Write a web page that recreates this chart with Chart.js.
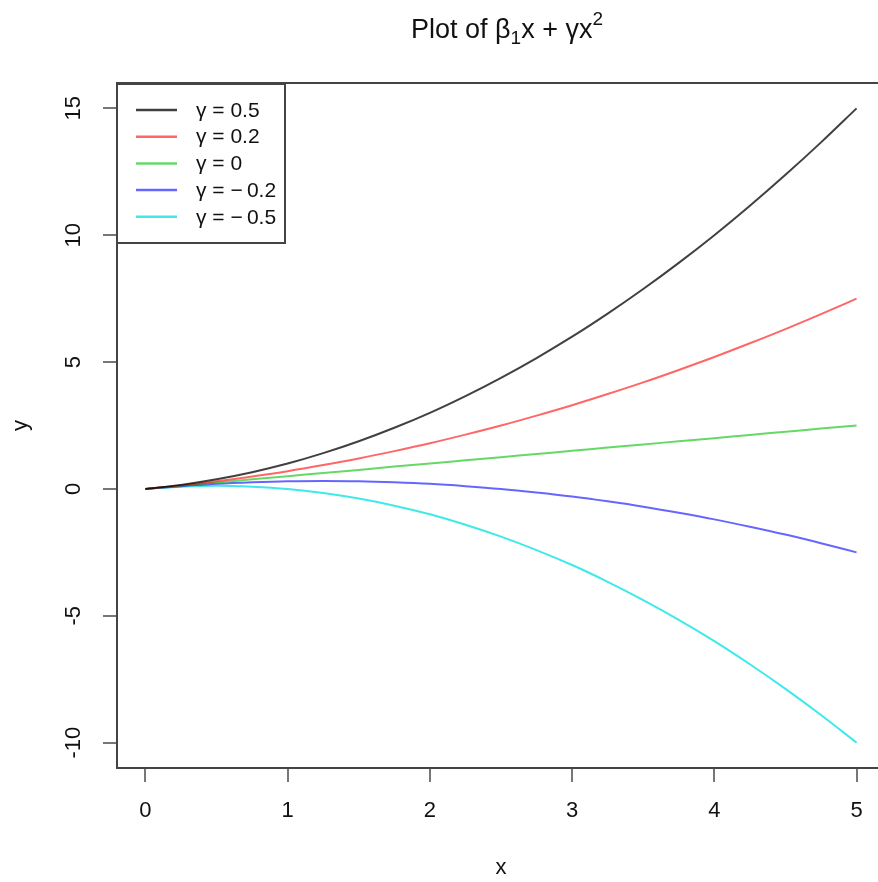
<!DOCTYPE html>
<html>
<head>
<meta charset="utf-8">
<script src="https://cdn.jsdelivr.net/npm/chart.js@4.4.1/dist/chart.umd.min.js"></script>
<style>
    html, body { margin: 0; padding: 0; background: #fff; overflow: hidden; }
    #wrap { width: 886px; height: 882px; }
</style>
</head>
<body>
<div id="wrap"><canvas id="quadChart" width="886" height="882"></canvas></div>
<script>
// values (y = b1*x + g*x^2 curves)
const xValues = [0, 0.25, 0.5, 0.75, 1, 1.25, 1.5, 1.75, 2, 2.25, 2.5, 2.75, 3, 3.25, 3.5, 3.75, 4, 4.25, 4.5, 4.75, 5];
const gammaPos05 = [0, 0.16, 0.38, 0.66, 1.0, 1.41, 1.88, 2.41, 3.0, 3.66, 4.38, 5.16, 6.0, 6.91, 7.88, 8.91, 10.0, 11.16, 12.38, 13.66, 15.0];
const gammaPos02 = [0, 0.14, 0.30, 0.49, 0.70, 0.94, 1.20, 1.49, 1.80, 2.14, 2.50, 2.89, 3.30, 3.74, 4.20, 4.69, 5.20, 5.74, 6.30, 6.89, 7.50];
const gammaZero = [0, 0.13, 0.25, 0.38, 0.50, 0.63, 0.75, 0.88, 1.0, 1.13, 1.25, 1.38, 1.50, 1.63, 1.75, 1.88, 2.0, 2.13, 2.25, 2.38, 2.50];
const gammaNeg02 = [0, 0.11, 0.20, 0.26, 0.30, 0.31, 0.30, 0.26, 0.20, 0.11, 0.0, -0.14, -0.30, -0.49, -0.70, -0.94, -1.20, -1.49, -1.80, -2.14, -2.50];
const gammaNeg05 = [0, 0.09, 0.13, 0.09, 0, -0.16, -0.38, -0.66, -1.0, -1.41, -1.88, -2.41, -3.0, -3.66, -4.38, -5.16, -6.0, -6.91, -7.88, -8.91, -10.0];

const seriesLabels = ['γ = 0.5', 'γ = 0.2', 'γ = 0', 'γ = \u2212\u20090.2', 'γ = \u2212\u20090.5'];
const xTicks = [0, 1, 2, 3, 4, 5];
const yTicks = [-10, -5, 0, 5, 10, 15];

const lineColors = ['rgba(0,0,0,0.75)', 'rgba(255,0,0,0.6)', 'rgba(0,190,0,0.6)', 'rgba(0,0,255,0.6)', 'rgba(0,225,225,0.75)'];
const FONT = '"Liberation Sans", Arial, sans-serif';

function toPoints(ys) {
    return xValues.map((x, i) => ({ x: x, y: ys[i] }));
}

// title with sub/superscript, like R plotmath
const titlePlugin = {
    id: 'rTitle',
    afterDraw(chart) {
        const ctx = chart.ctx;
        const parts = [
            { t: 'Plot of β', size: 27, dy: 0 },
            { t: '1', size: 19, dy: 6 },
            { t: 'x + γx', size: 27, dy: 0 },
            { t: '2', size: 19, dy: -13 }
        ];
        ctx.save();
        ctx.fillStyle = '#111';
        ctx.textBaseline = 'alphabetic';
        let total = 0;
        parts.forEach(p => {
            ctx.font = p.size + 'px ' + FONT;
            p.w = ctx.measureText(p.t).width;
            total += p.w;
        });
        let x = 507 - total / 2;
        parts.forEach(p => {
            ctx.font = p.size + 'px ' + FONT;
            ctx.textAlign = 'left';
            ctx.fillText(p.t, x, 38 + p.dy);
            x += p.w;
        });
        ctx.restore();
    }
};

// box around plot region + legend in the top-left corner
const boxLegendPlugin = {
    id: 'boxLegend',
    afterDraw(chart) {
        const ctx = chart.ctx;
        const a = chart.chartArea;
        ctx.save();
        ctx.strokeStyle = '#444';
        ctx.lineWidth = 2;
        ctx.strokeRect(a.left, a.top, a.right - a.left, a.bottom - a.top);

        // legend
        const lx = a.left, ly = a.top + 1;
        ctx.fillStyle = '#fff';
        ctx.fillRect(lx, ly, 168, 159);
        ctx.strokeRect(lx, ly, 168, 159);
        ctx.font = '21px ' + FONT;
        ctx.textBaseline = 'middle';
        ctx.textAlign = 'left';
        chart.data.datasets.forEach((ds, i) => {
            const y = ly + 26 + i * 26.7;
            ctx.strokeStyle = ds.borderColor;
            ctx.lineWidth = 2.5;
            ctx.beginPath();
            ctx.moveTo(lx + 19, y);
            ctx.lineTo(lx + 60, y);
            ctx.stroke();
            ctx.fillStyle = '#111';
            ctx.fillText(ds.label, lx + 79, y + 1);
        });
        ctx.restore();
    }
};

const ctx = document.getElementById('quadChart').getContext('2d');
const seriesData = [gammaPos05, gammaPos02, gammaZero, gammaNeg02, gammaNeg05];

new Chart(ctx, {
    type: 'line',
    data: {
        datasets: seriesData.map((ys, i) => ({
            label: seriesLabels[i],
            data: toPoints(ys),
            borderColor: lineColors[i],
            backgroundColor: lineColors[i],
            borderWidth: 2,
            pointRadius: 0,
            fill: false,
            cubicInterpolationMode: 'monotone'
        }))
    },
    options: {
        responsive: false,
        animation: false,
        devicePixelRatio: 1,
        layout: {
            padding: { top: 83, left: 0, right: 1, bottom: 0 }
        },
        plugins: {
            legend: { display: false },
            title: { display: false },
            tooltip: { enabled: false }
        },
        scales: {
            x: {
                type: 'linear',
                min: -0.2,
                max: 5.2,
                afterBuildTicks: function(scale) {
                    scale.ticks = xTicks.map(v => ({ value: v }));
                },
                afterFit: function(scale) {
                    scale.height = 114;
                },
                border: { display: false },
                grid: {
                    drawOnChartArea: false,
                    drawTicks: true,
                    tickLength: 14,
                    color: '#777',
                    lineWidth: 2
                },
                ticks: {
                    color: '#111',
                    font: { family: FONT, size: 22 },
                    padding: 16,
                    maxRotation: 0
                },
                title: {
                    display: true,
                    text: 'x',
                    color: '#111',
                    font: { family: FONT, size: 22 },
                    padding: { top: 0, bottom: 1 }
                }
            },
            y: {
                type: 'linear',
                min: -11,
                max: 16,
                afterBuildTicks: function(scale) {
                    scale.ticks = yTicks.map(v => ({ value: v }));
                },
                afterFit: function(scale) {
                    scale.width = 117;
                },
                border: { display: false },
                grid: {
                    drawOnChartArea: false,
                    drawTicks: true,
                    tickLength: 14,
                    color: '#777',
                    lineWidth: 2
                },
                ticks: {
                    color: '#111',
                    font: { family: FONT, size: 22 },
                    padding: 13,
                    minRotation: 90,
                    maxRotation: 90,
                    crossAlign: 'center'
                },
                title: {
                    display: true,
                    text: 'y',
                    color: '#111',
                    font: { family: FONT, size: 22 },
                    padding: { top: 8, bottom: 0 }
                }
            }
        }
    },
    plugins: [titlePlugin, boxLegendPlugin]
});
</script>
</body>
</html>
